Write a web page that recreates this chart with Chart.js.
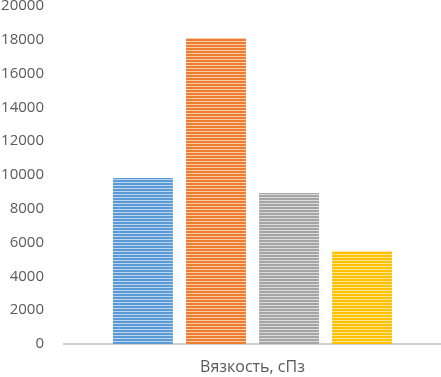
<!DOCTYPE html>
<html>
<head>
<meta charset="utf-8">
<script src="https://cdn.jsdelivr.net/npm/chart.js@4"></script>
<style>
    html, body { margin: 0; padding: 0; background: #fff; }
    #wrap { width: 441px; height: 377px; }
</style>
</head>
<body>
<div id="wrap"><canvas id="chart1"></canvas></div>
<script>
// данные
const categories = ["Вязкость, сПз"];
const seriesNames = ["Ряд 1", "Ряд 2", "Ряд 3", "Ряд 4"];
const seriesValues = [9820, 18100, 8930, 5500];
const yTicks = [0, 2000, 4000, 6000, 8000, 10000, 12000, 14000, 16000, 18000, 20000];

const baseColors = ["#5B9BD5", "#ED7D31", "#A5A5A5", "#FFC000"];
const lightColors = ["#BCD6EF", "#F8CBAD", "#DBDBDB", "#FFE699"];

// полосатая заливка как в Excel
function stripePattern(dark, light) {
    const c = document.createElement("canvas");
    c.width = 4;
    c.height = 3;
    const g = c.getContext("2d");
    g.fillStyle = light;
    g.fillRect(0, 0, 4, 3);
    g.fillStyle = dark;
    g.fillRect(0, 0, 4, 2);
    return g.createPattern(c, "repeat");
}

const ctx = document.getElementById("chart1").getContext("2d");

const datasets = seriesNames.map((name, i) => {
    return {
        label: name,
        data: [seriesValues[i]],
        backgroundColor: stripePattern(baseColors[i], lightColors[i]),
        borderWidth: 0,
        categoryPercentage: 0.775,
        barPercentage: 0.82,
    };
});

new Chart(ctx, {
    type: "bar",
    data: {
        labels: categories,
        datasets: datasets,
    },
    options: {
        responsive: true,
        maintainAspectRatio: false,
        animation: false,
        layout: { padding: 0 },
        plugins: {
            legend: { display: false },
            tooltip: { enabled: false },
        },
        scales: {
            x: {
                grid: { display: false, drawTicks: false },
                border: { display: true, color: "#D0D0D0", width: 2 },
                ticks: { display: false },
                title: {
                    display: true,
                    text: categories[0],
                    color: "#595959",
                    font: { family: "Open Sans", size: 16 },
                    padding: { top: 10, bottom: 0 },
                },
                afterFit: (s) => { s.height = 33; },
            },
            y: {
                min: 0,
                max: 20000,
                afterBuildTicks: (s) => { s.ticks = yTicks.map((v) => ({ value: v })); },
                grid: { display: false, drawTicks: false },
                border: { display: false },
                ticks: {
                    color: "#595959",
                    padding: 20,
                    font: { family: "Open Sans", size: 15 },
                    callback: (v) => String(v),
                },
                afterFit: (s) => {
                    s.width = 64;
                    s.paddingTop = 6;
                    s.paddingBottom = 0;
                },
            },
        },
    },
});
</script>
</body>
</html>
